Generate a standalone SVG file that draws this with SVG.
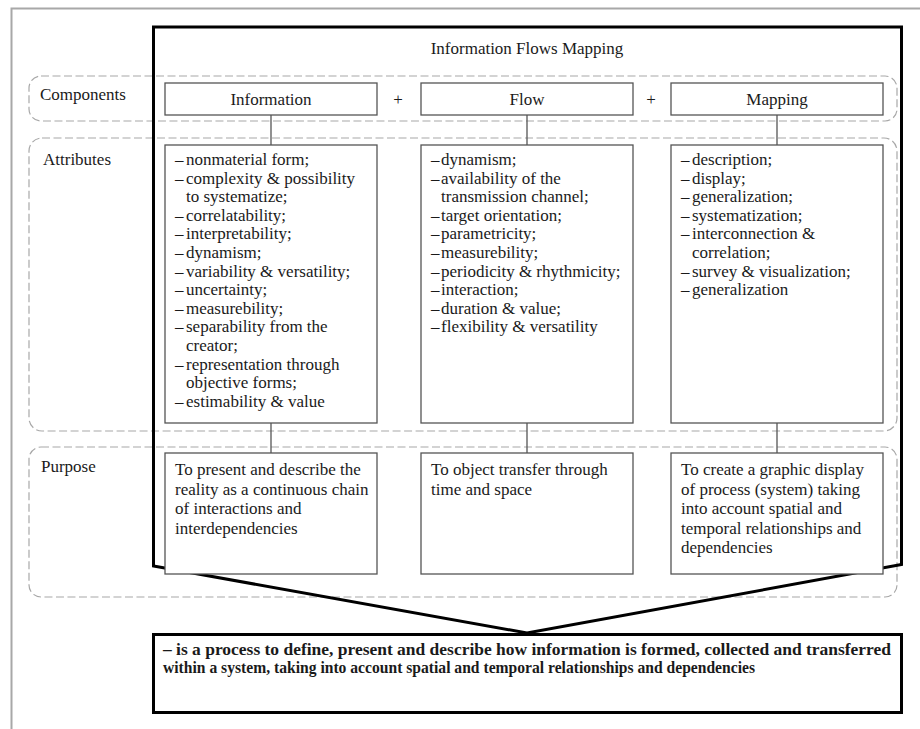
<svg xmlns="http://www.w3.org/2000/svg" width="920" height="729" viewBox="0 0 920 729">
<style>
.t{font-family:"Liberation Serif","Times New Roman",serif;font-size:17px;fill:#1a1a1a}
.c{text-anchor:middle}
.b{font-weight:bold}
.band{fill:none;stroke:#a8a8a8;stroke-width:1.2;stroke-dasharray:8 3.5}
.box{fill:#fff;stroke:#555;stroke-width:1.3}
.ln{stroke:#555;stroke-width:1.3;fill:none}
.frame{fill:none;stroke:#000;stroke-width:3;stroke-linejoin:miter}
</style>
<rect width="920" height="729" fill="#fff"/>
<g id="outer-border">
<path d="M11.5 729 V8.5 H920" fill="none" stroke="#a8a8a8" stroke-width="2"/>
</g>
<g id="bands">
<rect class="band" x="29" y="76" width="868" height="45" rx="12"/>
<rect class="band" x="29" y="138" width="868" height="293" rx="13"/>
<rect class="band" x="29" y="447" width="868" height="150" rx="12"/>
<text class="t" x="40" y="100">Components</text>
<text class="t" x="43" y="165">Attributes</text>
<text class="t" x="41" y="472">Purpose</text>
</g>
<g id="funnel-frame">
<path class="frame" d="M153.5 566 V27 H901.5 V564.5 L527 633 Z"/>
<text class="t c" x="527" y="54">Information Flows Mapping</text>
</g>
<g id="connectors">
<line class="ln" x1="271" y1="115" x2="271" y2="145"/>
<line class="ln" x1="527" y1="115" x2="527" y2="145"/>
<line class="ln" x1="777" y1="115" x2="777" y2="145"/>
<line class="ln" x1="271" y1="423" x2="271" y2="453"/>
<line class="ln" x1="527" y1="423" x2="527" y2="453"/>
<line class="ln" x1="777" y1="423" x2="777" y2="453"/>
<text class="t c" x="398" y="105">+</text>
<text class="t c" x="651" y="105">+</text>
</g>
<g id="comp-information">
<rect class="box" x="165" y="83" width="212" height="32"/>
<text class="t c" x="271" y="105">Information</text>
</g>
<g id="comp-flow">
<rect class="box" x="421" y="83" width="212" height="32"/>
<text class="t c" x="527" y="105">Flow</text>
</g>
<g id="comp-mapping">
<rect class="box" x="671" y="83" width="212" height="32"/>
<text class="t c" x="777" y="105">Mapping</text>
</g>
<g id="attr-information">
<rect class="box" x="165" y="145" width="212" height="278"/>
<text class="t">
<tspan x="175" y="165">–</tspan><tspan x="186" y="165">nonmaterial form;</tspan>
<tspan x="175" y="183.6">–</tspan><tspan x="186" y="183.6">complexity &amp; possibility</tspan>
<tspan x="186" y="202.2">to systematize;</tspan>
<tspan x="175" y="220.8">–</tspan><tspan x="186" y="220.8">correlatability;</tspan>
<tspan x="175" y="239.4">–</tspan><tspan x="186" y="239.4">interpretability;</tspan>
<tspan x="175" y="258">–</tspan><tspan x="186" y="258">dynamism;</tspan>
<tspan x="175" y="276.6">–</tspan><tspan x="186" y="276.6">variability &amp; versatility;</tspan>
<tspan x="175" y="295.2">–</tspan><tspan x="186" y="295.2">uncertainty;</tspan>
<tspan x="175" y="313.8">–</tspan><tspan x="186" y="313.8">measurebility;</tspan>
<tspan x="175" y="332.4">–</tspan><tspan x="186" y="332.4">separability from the</tspan>
<tspan x="186" y="351">creator;</tspan>
<tspan x="175" y="369.6">–</tspan><tspan x="186" y="369.6">representation through</tspan>
<tspan x="186" y="388.2">objective forms;</tspan>
<tspan x="175" y="406.8">–</tspan><tspan x="186" y="406.8">estimability &amp; value</tspan>
</text>
</g>
<g id="attr-flow">
<rect class="box" x="421" y="145" width="212" height="278"/>
<text class="t">
<tspan x="431" y="165">–</tspan><tspan x="441" y="165">dynamism;</tspan>
<tspan x="431" y="183.6">–</tspan><tspan x="441" y="183.6">availability of the</tspan>
<tspan x="441" y="202.2">transmission channel;</tspan>
<tspan x="431" y="220.8">–</tspan><tspan x="441" y="220.8">target orientation;</tspan>
<tspan x="431" y="239.4">–</tspan><tspan x="441" y="239.4">parametricity;</tspan>
<tspan x="431" y="258">–</tspan><tspan x="441" y="258">measurebility;</tspan>
<tspan x="431" y="276.6">–</tspan><tspan x="441" y="276.6">periodicity &amp; rhythmicity;</tspan>
<tspan x="431" y="295.2">–</tspan><tspan x="441" y="295.2">interaction;</tspan>
<tspan x="431" y="313.8">–</tspan><tspan x="441" y="313.8">duration &amp; value;</tspan>
<tspan x="431" y="332.4">–</tspan><tspan x="441" y="332.4">flexibility &amp; versatility</tspan>
</text>
</g>
<g id="attr-mapping">
<rect class="box" x="671" y="145" width="212" height="278"/>
<text class="t">
<tspan x="681" y="165">–</tspan><tspan x="692" y="165">description;</tspan>
<tspan x="681" y="183.6">–</tspan><tspan x="692" y="183.6">display;</tspan>
<tspan x="681" y="202.2">–</tspan><tspan x="692" y="202.2">generalization;</tspan>
<tspan x="681" y="220.8">–</tspan><tspan x="692" y="220.8">systematization;</tspan>
<tspan x="681" y="239.4">–</tspan><tspan x="692" y="239.4">interconnection &amp;</tspan>
<tspan x="692" y="258">correlation;</tspan>
<tspan x="681" y="276.6">–</tspan><tspan x="692" y="276.6">survey &amp; visualization;</tspan>
<tspan x="681" y="295.2">–</tspan><tspan x="692" y="295.2">generalization</tspan>
</text>
</g>
<g id="purpose-information">
<rect class="box" x="165" y="453" width="212" height="121"/>
<text class="t">
<tspan x="175" y="475">To present and describe the</tspan>
<tspan x="175" y="494.5">reality as a continuous chain</tspan>
<tspan x="175" y="514">of interactions and</tspan>
<tspan x="175" y="533.5">interdependencies</tspan>
</text>
</g>
<g id="purpose-flow">
<rect class="box" x="421" y="453" width="212" height="121"/>
<text class="t">
<tspan x="431" y="475">To object transfer through</tspan>
<tspan x="431" y="494.5">time and space</tspan>
</text>
</g>
<g id="purpose-mapping">
<rect class="box" x="671" y="453" width="212" height="121"/>
<text class="t">
<tspan x="681" y="475">To create a graphic display</tspan>
<tspan x="681" y="494.5">of process (system) taking</tspan>
<tspan x="681" y="514">into account spatial and</tspan>
<tspan x="681" y="533.5">temporal relationships and</tspan>
<tspan x="681" y="553">dependencies</tspan>
</text>
</g>
<g id="definition">
<rect x="153.5" y="634.5" width="748" height="78" fill="#fff" stroke="#000" stroke-width="3"/>
<text class="t b" x="163" y="655" textLength="728" lengthAdjust="spacingAndGlyphs">– is a process to define, present and describe how information is formed, collected and transferred</text>
<text class="t b" x="163" y="673" textLength="592" lengthAdjust="spacingAndGlyphs">within a system, taking into account spatial and temporal relationships and dependencies</text>
</g>
</svg>
